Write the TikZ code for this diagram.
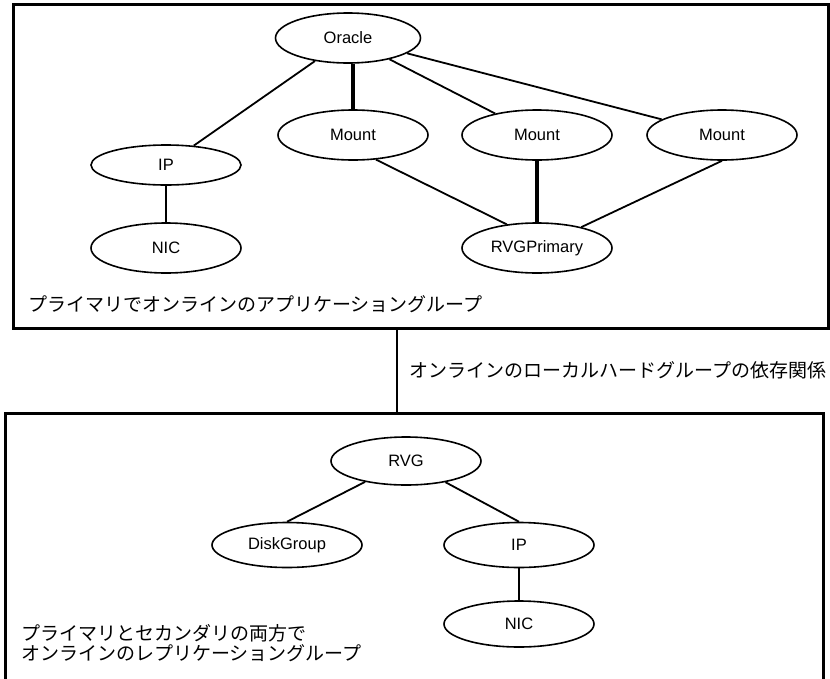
\documentclass[tikz,border=0pt]{standalone}
\usepackage{fontspec}
\setmainfont{Liberation Sans}
\newfontfamily\jpfont{Noto Sans CJK JP}
\usetikzlibrary{shapes.geometric,positioning}

\begin{document}
\begin{tikzpicture}[x=1pt,y=-1pt,
  grpbox/.style={draw,line width=3pt,rectangle,inner sep=0pt},
  res/.style={draw,ellipse,line width=1.6pt,inner sep=0pt,minimum width=150pt,minimum height=50pt,font=\fontsize{16.5}{19}\selectfont},
  grplabel/.style={inner sep=0pt,align=left,font=\jpfont\fontsize{19}{20}\selectfont},
  dep/.style={line width=1.8pt},
  strongdep/.style={line width=3.5pt},
  link/.style={line width=2.5pt}]
\useasboundingbox (0,0) rectangle (830,678);
\node[grpbox,minimum width=815pt,minimum height=324pt] (appgrp) at (420.5,166) {};
\node[grpbox,minimum width=818pt,minimum height=290pt] (repgrp) at (414,558) {};
\node[res,minimum width=145pt] (oracle) at (348,38) {Oracle};
\node[res] (mnt1) at (353,135) {Mount};
\node[res] (mnt2) at (537,135) {Mount};
\node[res] (mnt3) at (722,135) {Mount};
\node[res,minimum height=40pt] (ipA) at (166,165) {IP};
\node[res] (nicA) at (166,248) {NIC};
\node[res] (rvgp) at (537,248) {RVGPrimary};
\node[grplabel,anchor=west] (applbl) at (28,304) {プライマリでオンラインのアプリケーショングループ};
\node[res,minimum height=48pt] (rvg) at (406,461) {RVG};
\node[res,minimum height=45pt] (dg) at (287,545) {DiskGroup};
\node[res,minimum height=45pt] (ipB) at (519,545) {IP};
\node[res,minimum height=46pt] (nicB) at (519,624) {NIC};
\node[grplabel,anchor=west] (replbl) at (21,643) {プライマリとセカンダリの両方で\\オンラインのレプリケーショングループ};
\coordinate (lnk) at (397,0);
\draw[dep] (oracle) -- (ipA);
\draw[strongdep] (mnt1.north |- oracle.south) -- (mnt1.north);
\draw[dep] (oracle) -- (mnt2);
\draw[dep] (oracle) -- (mnt3);
\draw[dep] (ipA) -- (nicA);
\draw[dep] (mnt1.-47) -- (rvgp.142);
\draw[strongdep] (mnt2) -- (rvgp);
\draw[dep] (mnt3.south) -- (rvgp);
\draw[dep] (rvg) -- (dg.north);
\draw[dep] (rvg) -- (ipB.north);
\draw[dep] (ipB) -- (nicB);
\draw[link] (appgrp.south -| lnk) -- (repgrp.north -| lnk)
  node[midway,grplabel,anchor=west,xshift=11pt] (lnklbl) {オンラインのローカルハードグループの依存関係};
\end{tikzpicture}
\end{document}
